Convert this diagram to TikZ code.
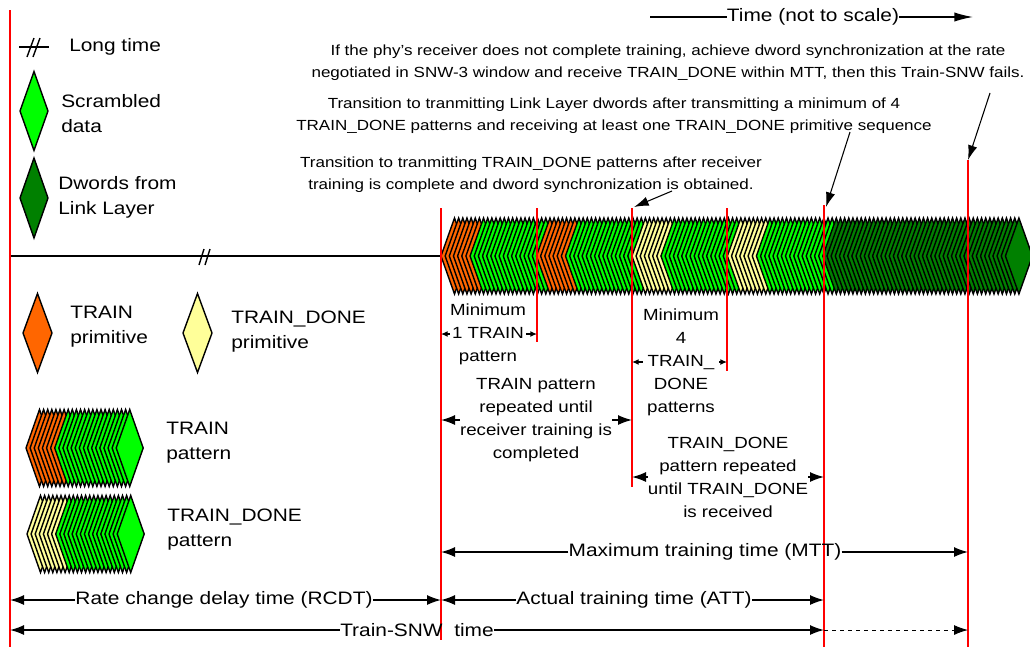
\documentclass[tikz,border=0pt]{standalone}
\usepackage{fontspec}
\setmainfont[FakeStretch=1.16]{Liberation Sans}
\usetikzlibrary{arrows.meta}
\definecolor{trainC}{HTML}{FF6600}
\definecolor{scrC}{HTML}{00FF00}
\definecolor{linkC}{HTML}{008000}
\definecolor{doneC}{HTML}{FFFF99}
\definecolor{redL}{HTML}{FF0000}
\tikzset{
  redline/.style={draw=redL, line width=1pt},
  blk/.style={draw=black, line width=1.05pt},
  big/.style={font=\fontsize{13.5}{17.5}\selectfont, inner sep=0pt},
  mid/.style={font=\fontsize{12.1}{17.25}\selectfont, align=center, inner sep=0pt},
  ann/.style={font=\fontsize{11}{16.5}\selectfont, align=center, inner sep=0pt},
  leg/.style={font=\fontsize{13.5}{18.75}\selectfont, align=left, anchor=west, inner sep=0pt},
  dimarr/.style={-{Latex[length=10.5pt,width=7.5pt]}, line width=1.05pt},
  smallarr/.style={-{Latex[length=5pt,width=4.5pt]}, line width=1.05pt},
  annarr/.style={-{Latex[length=11pt,width=7pt]}, line width=0.8pt},
  timearr/.style={-{Latex[length=14pt,width=7pt]}, line width=1.05pt},
  dia/.style={draw=black, line width=1.05pt},
}
\newcommand{\dmd}[5]{\filldraw[dia,fill=#5] (#1,#2) -- ++({#3/2},{-#4/2}) -- ++({#3/2},{#4/2}) -- ++({-#3/2},{#4/2}) -- cycle;}
\begin{document}
\begin{tikzpicture}[x=0.75pt,y=-0.75pt]
\useasboundingbox (0,0) rectangle (1030,647);
% x positions of red lines
\coordinate (x0) at (10,0);
\coordinate (xA) at (441,0);
\coordinate (xB) at (537,0);
\coordinate (xC) at (632,0);
\coordinate (xD) at (727,0);
\coordinate (xE) at (824,0);
\coordinate (xF) at (968,0);

% ---------- legend ----------
\coordinate (lt1) at (19,47);
\coordinate (lt2) at (49,47);
\draw[blk] (lt1) -- (lt2);
\draw[blk] (27,57) -- (34,38);
\draw[blk] (33,57) -- (40,38);
\node[leg] (ltime) at (69,47) {Long time};

\dmd{20}{111}{28}{79}{scrC}
\node[leg] (lscr) at (61,113.5) {Scrambled\\data};
\dmd{20}{198}{28}{80}{linkC}
\node[leg] (llink) at (58,197.5) {Dwords from\\Link Layer};
\dmd{23}{333}{29}{79}{trainC}
\node[leg] (ltrain) at (70,327) {TRAIN\\primitive};
\dmd{183}{333}{29}{79}{doneC}
\node[leg] (ldone) at (231,332) {TRAIN\_DONE\\primitive};

\foreach \j in {0,...,22}{
  \pgfmathsetmacro\xx{26+\j*4.1}
  \ifnum\j<7 \def\cc{trainC}\else\def\cc{scrC}\fi
  \dmd{\xx}{448}{27}{77}{\cc}
}
\node[leg] (ltp) at (166,443) {TRAIN\\pattern};
\foreach \j in {0,...,22}{
  \pgfmathsetmacro\xx{27+\j*4.1}
  \ifnum\j<7 \def\cc{doneC}\else\def\cc{scrC}\fi
  \dmd{\xx}{534}{27}{77}{\cc}
}
\node[leg] (ldp) at (167,530) {TRAIN\_DONE\\pattern};

% ---------- baseline ----------
\coordinate (bl0) at (10,256);
\coordinate (bl1) at (441,256);
\draw[blk] (bl0) -- (bl1);
\draw[blk] (199,265) -- (204,249);
\draw[blk] (205,265) -- (210,249);

% ---------- strip ----------
\foreach \s/\n/\c in {0/7/trainC,7/16/scrC,23/7/trainC,30/16/scrC,46/7/doneC,53/16/scrC,69/7/doneC,76/16/scrC,92/45/linkC}{
  \foreach \j in {1,...,\n}{
    \pgfmathsetmacro\xx{441+(\s+\j-1)*4.15}
    \dmd{\xx}{256}{27}{76}{\c}
  }
}

% ---------- red lines ----------
\coordinate (r0t) at (10,10);   \coordinate (r0b) at (10,647);
\coordinate (rAt) at (441,208); \coordinate (rAb) at (441,640);
\coordinate (rBt) at (537,208); \coordinate (rBb) at (537,342);
\coordinate (rCt) at (632,208); \coordinate (rCb) at (632,487);
\coordinate (rDt) at (727,208); \coordinate (rDb) at (727,371);
\coordinate (rEt) at (824,205); \coordinate (rEb) at (824,647);
\coordinate (rFt) at (968,160); \coordinate (rFb) at (968,647);
\foreach \a in {0,A,B,C,D,E,F}{ \draw[redline] (r\a t) -- (r\a b); }

% ---------- time arrow ----------
\node[big] (time) at (813,17) {Time (not to scale)};
\coordinate (tl) at (650,17);
\coordinate (tr) at (973,17);
\draw[blk] (tl) -- (time.west);
\draw[timearr] (time.east) -- (tr);

% ---------- annotations ----------
\node[ann] (a1) at (668,63) {If the phy’s receiver does not complete training, achieve dword synchronization at the rate\\negotiated in SNW-3 window and receive TRAIN\_DONE within MTT, then this Train-SNW fails.};
\coordinate (a1s) at (990,93);
\draw[annarr] (a1s) -- (rFt);
\node[ann] (a2) at (614,116) {Transition to tranmitting Link Layer dwords after transmitting a minimum of 4\\TRAIN\_DONE patterns and receiving at least one TRAIN\_DONE primitive sequence};
\coordinate (a2s) at (850,132);
\coordinate (a2e) at (826,207);
\draw[annarr] (a2s) -- (a2e);
\node[ann] (a3) at (531,175) {Transition to tranmitting TRAIN\_DONE patterns after receiver\\training is complete and dword synchronization is obtained.};
\coordinate (a3s) at (672,191);
\coordinate (a3e) at (634,207);
\draw[annarr] (a3s) -- (a3e);

% ---------- middle dimension labels ----------
\node[mid] (m1) at (488,334) {Minimum\\1 TRAIN\\pattern};
\draw[smallarr] (m1.west) -- (m1.west -| xA);
\draw[smallarr] (m1.east) -- (m1.east -| xB);
\node[mid] (m2) at (536,420) {TRAIN pattern\\repeated until\\receiver training is\\completed};
\draw[dimarr] (m2.west) -- (m2.west -| xA);
\draw[dimarr] (m2.east) -- (m2.east -| xC);
\node[mid] (m3) at (681,362) {Minimum\\4\\TRAIN\_\\DONE\\patterns};
\draw[smallarr] (m3.west) -- (m3.west -| xC);
\draw[smallarr] (m3.east) -- (m3.east -| xD);
\node[mid] (m4) at (728,477) {TRAIN\_DONE\\pattern repeated\\until TRAIN\_DONE\\is received};
\draw[dimarr] (m4.west) -- (m4.west -| xC);
\draw[dimarr] (m4.east) -- (m4.east -| xE);

% ---------- bottom rows ----------
\node[big] (mtt) at (705,552) {Maximum training time (MTT)};
\draw[dimarr] (mtt.west) -- (mtt.west -| xA);
\draw[dimarr] (mtt.east) -- (mtt.east -| xF);
\node[big] (rcdt) at (224,600) {Rate change delay time (RCDT)};
\draw[dimarr] (rcdt.west) -- (rcdt.west -| x0);
\draw[dimarr] (rcdt.east) -- (rcdt.east -| xA);
\node[big] (att) at (634,600) {Actual training time (ATT)};
\draw[dimarr] (att.west) -- (att.west -| xA);
\draw[dimarr] (att.east) -- (att.east -| xE);
\node[big] (snw) at (417,630) {Train-SNW\ \ time};
\draw[dimarr] (snw.west) -- (snw.west -| x0);
\draw[dimarr] (snw.east) -- (snw.east -| xE);
\coordinate (dsh) at (snw.east -| xE);
\draw[dimarr,dashed,line width=0.7pt] (dsh) -- (dsh -| xF);
\end{tikzpicture}
\end{document}
